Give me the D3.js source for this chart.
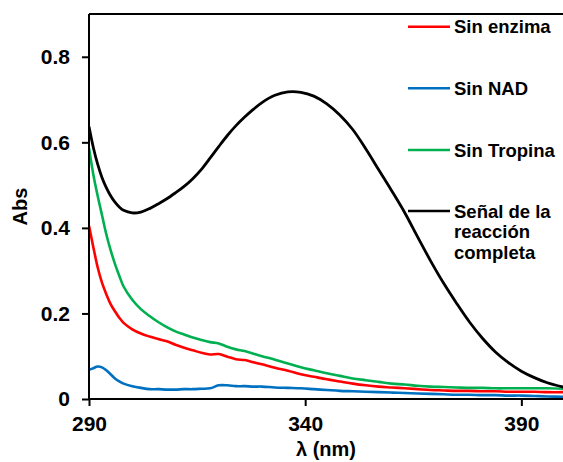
<!DOCTYPE html>
<html>
<head>
<meta charset="utf-8">
<script src="https://cdn.jsdelivr.net/npm/d3@7"></script>
<style>
  body { margin: 0; background: #fff; }
  text { font-family: "Liberation Sans", Arial, sans-serif; font-weight: bold; fill: #000; }
</style>
</head>
<body>
<div id="chart"></div>
<script>
// wavelength grid (nm)
const wavelength = [290, 291, 292, 293, 294, 295, 296, 297, 298, 300, 302, 304, 306, 308, 310, 312, 314, 316, 318, 320,
  322, 324, 326, 328, 330, 333, 336, 339, 342, 345, 348, 351, 354, 357, 360, 363, 366, 369, 372, 375,
  378, 381, 384, 387, 390, 393, 396, 400];

// absorbance per series
const sinEnzima = [0.405, 0.355, 0.308, 0.272, 0.245, 0.222, 0.205, 0.190, 0.178, 0.163, 0.153, 0.146, 0.140, 0.135, 0.127, 0.120, 0.114, 0.108, 0.104, 0.105,
  0.099, 0.093, 0.091, 0.086, 0.081, 0.073, 0.066, 0.058, 0.052, 0.046, 0.041, 0.036, 0.032, 0.029, 0.027, 0.025, 0.023, 0.021, 0.020, 0.019,
  0.019, 0.018, 0.018, 0.017, 0.017, 0.017, 0.016, 0.016];
const sinNAD = [0.068, 0.072, 0.076, 0.074, 0.067, 0.058, 0.048, 0.041, 0.036, 0.030, 0.026, 0.023, 0.023, 0.022, 0.022, 0.023, 0.023, 0.024, 0.025, 0.032,
  0.032, 0.030, 0.030, 0.029, 0.029, 0.027, 0.026, 0.025, 0.023, 0.021, 0.019, 0.018, 0.017, 0.016, 0.015, 0.014, 0.013, 0.012, 0.011, 0.010,
  0.010, 0.009, 0.009, 0.008, 0.008, 0.007, 0.006, 0.005];
const sinTropina = [0.586, 0.525, 0.475, 0.430, 0.385, 0.348, 0.316, 0.288, 0.263, 0.232, 0.210, 0.194, 0.180, 0.168, 0.158, 0.151, 0.144, 0.138, 0.133, 0.130,
  0.122, 0.116, 0.112, 0.106, 0.100, 0.092, 0.083, 0.074, 0.067, 0.060, 0.054, 0.048, 0.044, 0.040, 0.036, 0.034, 0.031, 0.029, 0.028, 0.027,
  0.026, 0.026, 0.025, 0.025, 0.025, 0.025, 0.025, 0.024];
const completa = [0.637, 0.588, 0.549, 0.518, 0.494, 0.475, 0.460, 0.449, 0.441, 0.435, 0.437, 0.445, 0.456, 0.468, 0.482, 0.497, 0.515, 0.537, 0.563, 0.590,
  0.616, 0.639, 0.659, 0.677, 0.693, 0.710, 0.718, 0.717, 0.708, 0.690, 0.664, 0.630, 0.585, 0.536, 0.487, 0.436, 0.379, 0.323, 0.271, 0.224,
  0.180, 0.142, 0.110, 0.085, 0.065, 0.050, 0.038, 0.027];

const seriesNames = ["Sin enzima", "Sin NAD", "Sin Tropina", "Señal de la|reacción|completa"];
const seriesColors = ["#ff0000", "#0070c0", "#00b050", "#000000"];
const seriesValues = [sinEnzima, sinNAD, sinTropina, completa];

const xTicks = [290, 340, 390];
const yTicks = [0, 0.2, 0.4, 0.6, 0.8];

const width = 563, height = 462;
const plotLeft = 89, plotRight = 564.6, plotTop = 14, plotBottom = 399;

const svg = d3.select("#chart").append("svg")
  .attr("width", width)
  .attr("height", height);

const x = d3.scaleLinear().domain([290, 400]).range([plotLeft, plotRight]);
const y = d3.scaleLinear().domain([0, 0.9]).range([plotBottom, plotTop]);

svg.append("clipPath").attr("id", "plot")
  .append("rect").attr("x", plotLeft).attr("y", plotTop)
  .attr("width", plotRight - plotLeft).attr("height", plotBottom - plotTop);

// top border
svg.append("line")
  .attr("x1", plotLeft).attr("x2", width).attr("y1", plotTop).attr("y2", plotTop)
  .attr("stroke", "#000").attr("stroke-width", 2);

// lines
const line = d3.line()
  .x((d, i) => x(wavelength[i]))
  .y(d => y(d))
  .curve(d3.curveCatmullRom.alpha(0.5));

svg.append("g").attr("clip-path", "url(#plot)")
  .selectAll("path")
  .data(seriesValues)
  .join("path")
    .attr("d", line)
    .attr("fill", "none")
    .attr("stroke", (d, i) => seriesColors[i])
    .attr("stroke-width", (d, i) => i === 3 ? 2.8 : 2.6)
    .attr("stroke-linejoin", "round");

// y axis
const yAxis = svg.append("g")
  .attr("transform", `translate(${plotLeft},0)`)
  .call(d3.axisLeft(y).tickValues(yTicks).tickSizeOuter(0).tickSize(7).tickPadding(12)
    .tickFormat(d => d === 0 ? "0" : d.toFixed(1)));
yAxis.select(".domain").attr("d", `M0,${plotTop}V${plotBottom}`);

// x axis
const xAxis = svg.append("g")
  .attr("transform", `translate(0,${plotBottom})`)
  .call(d3.axisBottom(x).tickValues(xTicks).tickSizeOuter(0).tickSize(7).tickPadding(10));
xAxis.select(".domain").attr("d", `M${plotLeft},0H${width}`);

svg.selectAll(".tick text").attr("font-size", 21).attr("font-family", null);
svg.selectAll(".domain, .tick line").attr("stroke", "#000").attr("stroke-width", 2);

// axis titles
svg.append("text")
  .attr("transform", `translate(27,${(plotTop + plotBottom) / 2}) rotate(-90)`)
  .attr("text-anchor", "middle")
  .attr("font-size", 20)
  .text("Abs");

svg.append("text")
  .attr("x", (plotLeft + width) / 2)
  .attr("y", 456)
  .attr("text-anchor", "middle")
  .attr("font-size", 20)
  .text("λ (nm)");

// legend
const legendY = [26.7, 88.3, 150, 211];
const legend = svg.append("g")
  .selectAll("g")
  .data(seriesNames)
  .join("g")
    .attr("transform", (d, i) => `translate(408,${legendY[i]})`);

legend.append("line")
  .attr("x1", 0).attr("x2", 42)
  .attr("stroke", (d, i) => seriesColors[i])
  .attr("stroke-width", 2.6);

legend.append("text")
  .attr("font-size", 18.5)
  .selectAll("tspan")
  .data(d => d.split("|"))
  .join("tspan")
    .attr("x", 46)
    .attr("y", (d, i) => 6.7 + i * 20.5)
    .text(d => d);
</script>
</body>
</html>
